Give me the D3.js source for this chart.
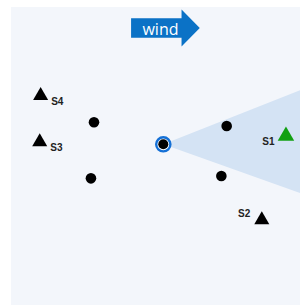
<!DOCTYPE html>
<html>
<head>
<meta charset="utf-8">
<script src="https://cdn.jsdelivr.net/npm/d3@7"></script>
<style>
    html, body { margin: 0; padding: 0; background: #ffffff; }
    svg { display: block; }
</style>
</head>
<body>
<div id="chart"></div>
<script>
// source location is the origin, units are arbitrary map units
const sourceX = 0;
const sourceY = 0;

// receptor dots around the source
const receptorX = [-4.56, 4.17, -4.76, 3.82];
const receptorY = [1.45, 1.20, -2.24, -2.09];

// sensors (triangles)
const sensorNames = ['S1', 'S2', 'S3', 'S4'];
const sensorX = [8.07, 6.48, -8.13, -8.07];
const sensorY = [0.55, -4.97, 0.16, 3.20];
const sensorHit = [true, false, false, false];

// wind: bearing in degrees (90 = east) and half width of the plume cone
const windBearing = 89;
const windSpread = 20.6;
const windLabel = 'wind';

const width = 300;
const height = 306;

const x = d3.scaleLinear().domain([-10, 10]).range([11.3, 315.3]);
const y = d3.scaleLinear().domain([-10, 10]).range([296.3, -7.7]);

const svg = d3.select('#chart')
    .append('svg')
    .attr('width', width)
    .attr('height', height);

svg.append('defs').append('clipPath')
    .attr('id', 'panel-clip')
    .append('rect')
    .attr('x', 11).attr('y', 7)
    .attr('width', 289).attr('height', 298);

svg.append('rect')
    .attr('x', 11).attr('y', 7)
    .attr('width', 289).attr('height', 298)
    .attr('fill', '#f3f6fb');

const plot = svg.append('g').attr('clip-path', 'url(#panel-clip)');

// plume cone
const toRad = Math.PI / 180;
const cone = d3.arc()
    .innerRadius(0)
    .outerRadius(x(14) - x(0))
    .startAngle((windBearing - windSpread) * toRad)
    .endAngle((windBearing + windSpread) * toRad);

plot.append('path')
    .attr('transform', `translate(${x(sourceX)},${y(sourceY)})`)
    .attr('d', cone())
    .attr('fill', '#d4e3f4');

// receptors
plot.selectAll('.receptor')
    .data(receptorX.map((d, i) => ({ x: d, y: receptorY[i] })))
    .enter().append('circle')
    .attr('class', 'receptor')
    .attr('cx', d => x(d.x))
    .attr('cy', d => y(d.y))
    .attr('r', 5.3)
    .attr('fill', '#000');

// source
plot.append('circle')
    .attr('cx', x(sourceX)).attr('cy', y(sourceY))
    .attr('r', 7.1)
    .attr('fill', '#fff')
    .attr('stroke', '#1470d6')
    .attr('stroke-width', 2.4);

plot.append('circle')
    .attr('cx', x(sourceX)).attr('cy', y(sourceY))
    .attr('r', 5)
    .attr('fill', '#000');

// sensors
const sensors = sensorNames.map((name, i) => ({
    name: name, x: sensorX[i], y: sensorY[i], hit: sensorHit[i]
}));

const tri = d3.symbol().type(d3.symbolTriangle);

const sg = plot.selectAll('.sensor')
    .data(sensors)
    .enter().append('g')
    .attr('class', 'sensor')
    .attr('transform', d => `translate(${x(d.x)},${y(d.y)})`);

sg.append('path')
    .attr('d', d => tri.size(d.hit ? 118 : 98)())
    .attr('fill', d => d.hit ? '#12a012' : '#000');

// label placement: right of the sensor on the left half, left of it on the right half
sg.append('text')
    .attr('x', d => d.x < 0 ? 10.5 : -11.5)
    .attr('y', d => d.y < -3 ? -3 : 9)
    .attr('text-anchor', d => d.x < 0 ? 'start' : 'end')
    .attr('font-family', '"Liberation Sans", Arial, sans-serif')
    .attr('font-weight', 'bold')
    .attr('font-size', 10)
    .attr('fill', '#222')
    .text(d => d.name);

// wind arrow
const ax0 = x(-2.12), ax1 = x(1.2), axTip = x(2.4);
const ay = 28;
const arrow = d3.path();
arrow.moveTo(ax0, ay - 9.7);
arrow.lineTo(ax1, ay - 9.7);
arrow.lineTo(ax1, ay - 18.5);
arrow.lineTo(axTip, ay);
arrow.lineTo(ax1, ay + 18.5);
arrow.lineTo(ax1, ay + 9.7);
arrow.lineTo(ax0, ay + 9.7);
arrow.closePath();

svg.append('path')
    .attr('d', arrow.toString())
    .attr('fill', '#0b72c6');

svg.append('text')
    .attr('x', 160.5)
    .attr('y', 35)
    .attr('text-anchor', 'middle')
    .attr('font-family', '"Open Sans", sans-serif')
    .attr('font-size', 16)
    .attr('fill', '#fff')
    .text(windLabel);
</script>
</body>
</html>
